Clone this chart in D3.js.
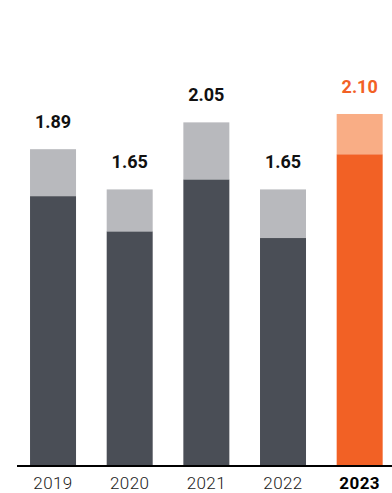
<!DOCTYPE html>
<html>
<head>
<meta charset="utf-8">
<script src="https://cdn.jsdelivr.net/npm/d3@7"></script>
<style>
  html, body { margin: 0; padding: 0; background: #fff; }
  svg { display: block; }
</style>
</head>
<body>
<svg id="chart" width="392" height="493"></svg>
<script>
const years = ["2019", "2020", "2021", "2022", "2023"];
const baseValues = [1.61, 1.40, 1.71, 1.36, 1.86];
const totals = [1.89, 1.65, 2.05, 1.65, 2.10];
const totalLabels = ["1.89", "1.65", "2.05", "1.65", "2.10"];
const highlightYear = "2023";

const svg = d3.select("#chart");
const W = 392, H = 493;
const baseY = 466;

const x = d3.scaleBand().domain(years).range([14.7, 398]).paddingInner(0.4).paddingOuter(0.2);
const y = d3.scaleLinear().domain([0, 2.78]).range([baseY, 0]);

const colors = {
  base: "#4a4e56", top: "#b8b9bd",
  hBase: "#f26125", hTop: "#f9ad85"
};

const data = years.map((yr, i) => ({ yr, base: baseValues[i], total: totals[i], label: totalLabels[i], hi: yr === highlightYear }));

const g = svg.append("g");

g.selectAll("rect.base").data(data).join("rect")
  .attr("class", "base")
  .attr("x", d => x(d.yr))
  .attr("width", x.bandwidth())
  .attr("y", d => y(d.base))
  .attr("height", d => y(0) - y(d.base))
  .attr("fill", d => d.hi ? colors.hBase : colors.base);

g.selectAll("rect.top").data(data).join("rect")
  .attr("class", "top")
  .attr("x", d => x(d.yr))
  .attr("width", x.bandwidth())
  .attr("y", d => y(d.total))
  .attr("height", d => y(d.base) - y(d.total))
  .attr("fill", d => d.hi ? colors.hTop : colors.top);

g.selectAll("text.val").data(data).join("text")
  .attr("class", "val")
  .attr("x", d => x(d.yr) + x.bandwidth() / 2)
  .attr("y", d => y(d.total) - 21)
  .attr("text-anchor", "middle")
  .attr("font-family", "Roboto, sans-serif")
  .attr("font-weight", "bold")
  .attr("font-size", "18px")
  .attr("fill", d => d.hi ? "#f26125" : "#111")
  .text(d => d.label);

const axis = d3.axisBottom(x).tickSize(0).tickPadding(11);
const ax = svg.append("g").attr("transform", `translate(0,${baseY})`).call(axis);
ax.select(".domain").remove();
ax.append("line").attr("x1", 17).attr("x2", W).attr("y1", 0).attr("y2", 0)
  .attr("stroke", "#000").attr("stroke-width", 2);
ax.selectAll(".tick text")
  .attr("font-family", "Roboto, sans-serif")
  .attr("font-size", "17px")
  .attr("letter-spacing", "0.4px")
  .attr("fill", d => d === highlightYear ? "#000" : "#1a1a1a")
  .attr("font-weight", d => d === highlightYear ? "bold" : "300");
</script>
</body>
</html>
